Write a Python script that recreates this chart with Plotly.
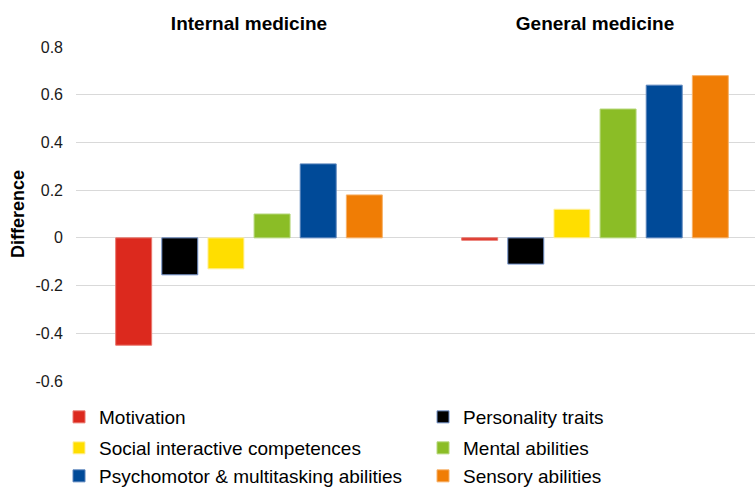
import plotly.graph_objects as go

categories = ["Internal medicine", "General medicine"]
series_names = [
    "Motivation",
    "Personality traits",
    "Social interactive competences",
    "Mental abilities",
    "Psychomotor & multitasking abilities",
    "Sensory abilities",
]
motivation = [-0.45, -0.01]
personality = [-0.155, -0.11]
social = [-0.13, 0.12]
mental = [0.10, 0.54]
psychomotor = [0.31, 0.64]
sensory = [0.18, 0.68]
values = [motivation, personality, social, mental, psychomotor, sensory]

y_tickvals = [-0.6, -0.4, -0.2, 0, 0.2, 0.4, 0.6, 0.8]
y_ticktext = ["-0.6", "-0.4", "-0.2", "0", "0.2", "0.4", "0.6", "0.8"]

colors = ["#DC291E", "#000000", "#FFDE00", "#8BBD26", "#004A98", "#F07D05"]
line_colors = ["#E9776E", "#7393CC", "#FFF0A0", "#B5D77A", "#5A84BC", "#F6B169"]
legend_ids = ["legend", "legend", "legend2", "legend2", "legend3", "legend3"]

FONT = "Arial, 'Liberation Sans', sans-serif"

fig = go.Figure()
for name, vals, c, lc, lg in zip(series_names, values, colors, line_colors, legend_ids):
    fig.add_trace(go.Bar(
        x=categories, y=vals, name=name,
        marker=dict(color=c, line=dict(color=lc, width=1)),
        legend=lg,
    ))

legend_common = dict(
    orientation="h", xref="paper", yref="paper", x=-0.0250, xanchor="left",
    yanchor="middle", entrywidth=319, entrywidthmode="pixels",
    font=dict(family=FONT, size=19, color="#000000"),
    bgcolor="rgba(0,0,0,0)", borderwidth=0, traceorder="normal",
)

fig.update_layout(
    width=755, height=487,
    margin=dict(l=76, r=0, t=47, b=106, autoexpand=False),
    paper_bgcolor="white", plot_bgcolor="white",
    barmode="group", bargap=0.2, bargroupgap=0.22,
    font=dict(family=FONT, color="#1a1a1a"),
    xaxis=dict(
        side="top", range=[-0.5, 1.4624], showgrid=False, zeroline=False,
        showline=False, ticks="", tickfont=dict(family=FONT, size=19, color="#000000", weight="bold"),
        ticklabelstandoff=12,
    ),
    yaxis=dict(
        range=[-0.6, 0.8], tickvals=y_tickvals, ticktext=y_ticktext,
        showgrid=True, gridcolor="#d9d9d9", gridwidth=1.3,
        zeroline=True, zerolinecolor="#d9d9d9", zerolinewidth=1.3,
        showline=False, ticks="", tickfont=dict(family=FONT, size=16, color="#1a1a1a"),
        ticklabelstandoff=12,
        title=dict(text="<b>Difference</b>", font=dict(family=FONT, size=18, color="#000000"), standoff=6),
    ),
    legend=dict(legend_common, y=-0.1078),
    legend2=dict(legend_common, y=-0.2006),
    legend3=dict(legend_common, y=-0.2844),
)

fig.write_html(
    "out.html",
    config={"displayModeBar": False},
    post_script="document.body.style.margin='0';document.body.style.overflow='hidden';",
)
